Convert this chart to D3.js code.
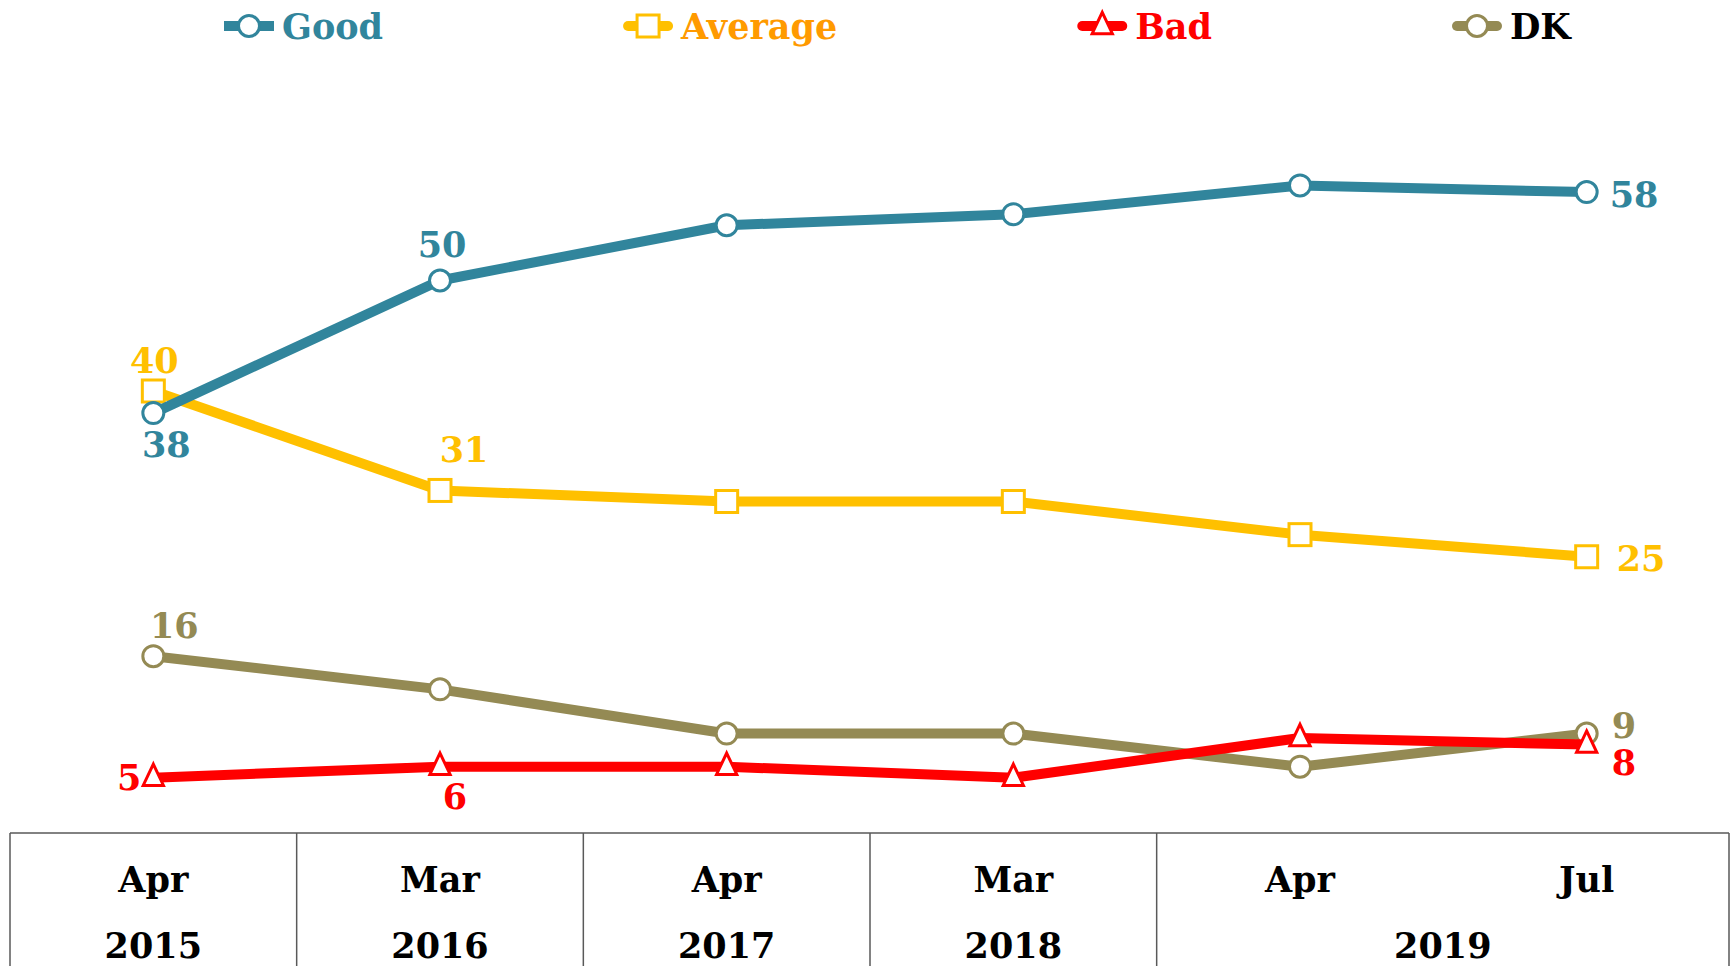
<!DOCTYPE html>
<html>
<head>
<meta charset="utf-8">
<script src="https://cdn.jsdelivr.net/npm/d3@7"></script>
<style>
  body { margin: 0; background: #fff; }
  svg { display: block; font-family: "DejaVu Serif", serif; font-weight: bold; }
</style>
</head>
<body>
<svg id="chart" width="1731" height="966"></svg>
<script>
// data
const categories = ["Apr 2015", "Mar 2016", "Apr 2017", "Mar 2018", "Apr 2019", "Jul 2019"];
const months = ["Apr", "Mar", "Apr", "Mar", "Apr", "Jul"];
const years = ["2015", "2016", "2017", "2018", "2019", "2019"];
const seriesNames = ["Good", "Average", "Bad", "DK"];
const good = [38, 50, 55, 56, 58.6, 58];
const average = [40, 31, 30, 30, 27, 25];
const bad = [5, 6, 6, 5, 8.6, 8];
const dk = [16, 13, 9, 9, 6, 9];

// which points get a value label: [index, dx, dy, anchor]
const labelSpots = {
  Good: [[0, 13, 44, "middle"], [1, 2, -24, "middle"], [5, 23, 15, "start"]],
  Average: [[0, 1, -18, "middle"], [1, 24, -28, "middle"], [5, 30, 14, "start"]],
  Bad: [[0, -12, 12, "end"], [1, 15, 42, "middle"], [5, 25, 30, "start"]],
  DK: [[0, 21, -18, "middle"], [5, 25, 4, "start"]]
};

// triangle drawn round its centroid, like the spreadsheet marker
const tri = {
  draw(ctx, size) {
    const h = Math.sqrt(size);
    ctx.moveTo(0, -h * 0.62);
    ctx.lineTo(h * 0.46, h * 0.35);
    ctx.lineTo(-h * 0.46, h * 0.35);
    ctx.closePath();
  }
};

const styles = {
  Good: { color: "#31859c", text: "#31859c", shape: "circle", cap: "butt" },
  Average: { color: "#ffc000", text: "#ff9a00", shape: "square", cap: "round" },
  Bad: { color: "#ff0000", text: "#ff0000", shape: "triangle", cap: "round" },
  DK: { color: "#948a54", text: "#000000", shape: "circle", cap: "round" }
};
const valuesByName = { Good: good, Average: average, Bad: bad, DK: dk };

const svg = d3.select("#chart");
const tableTop = 833;

const x = d3.scaleBand().domain(categories).range([10, 1730]);
const cx = d => x(d) + x.bandwidth() / 2;
const y = d3.scaleLinear().domain([0, 60]).range([tableTop, 170]);

function marker(sel, shape, color) {
  if (shape === "circle") {
    sel.append("circle").attr("r", 10.5)
      .attr("fill", "#fff").attr("stroke", color).attr("stroke-width", 3);
  } else if (shape === "square") {
    sel.append("rect").attr("x", -11).attr("y", -11).attr("width", 22).attr("height", 22)
      .attr("fill", "#fff").attr("stroke", color).attr("stroke-width", 3);
  } else {
    sel.append("path").attr("d", d3.symbol(tri, 22 * 22)())
      .attr("fill", "#fff").attr("stroke", color).attr("stroke-width", 3);
  }
}

// lines, DK first so Good ends up on top
const order = ["DK", "Bad", "Average", "Good"];
const line = d3.line().x(d => cx(d.cat)).y(d => y(d.v));

order.forEach(name => {
  const st = styles[name];
  const pts = valuesByName[name].map((v, i) => ({ cat: categories[i], v }));
  const g = svg.append("g");
  g.append("path").datum(pts)
    .attr("d", line)
    .attr("fill", "none")
    .attr("stroke", st.color)
    .attr("stroke-width", 10)
    .attr("stroke-linejoin", "round");
  g.selectAll("g.pt").data(pts).join("g")
    .attr("class", "pt")
    .attr("transform", d => `translate(${cx(d.cat)},${y(d.v)})`)
    .each(function() { marker(d3.select(this), st.shape, st.color); });
});

// value labels
seriesNames.forEach(name => {
  const vals = valuesByName[name];
  svg.append("g").selectAll("text").data(labelSpots[name]).join("text")
    .attr("x", d => cx(categories[d[0]]) + d[1])
    .attr("y", d => y(vals[d[0]]) + d[2])
    .attr("text-anchor", d => d[3])
    .attr("fill", styles[name].color)
    .attr("font-size", 35)
    .text(d => Math.round(vals[d[0]]));
});

// legend
const legend = svg.append("g");
let lx = 224;
seriesNames.forEach(name => {
  const st = styles[name];
  const g = legend.append("g").attr("transform", `translate(${lx},26)`);
  g.append("line").attr("x1", st.cap === "round" ? 5 : 0).attr("x2", st.cap === "round" ? 45 : 50)
    .attr("stroke", st.color).attr("stroke-width", 10).attr("stroke-linecap", st.cap);
  const m = g.append("g").attr("transform", "translate(25,0)");
  marker(m, st.shape, st.color);
  const t = g.append("text").attr("x", 58).attr("y", 13)
    .attr("font-size", 35).attr("fill", st.text).text(name);
  lx += 58 + t.node().getComputedTextLength() + 240;
});

// table of dates under the plot
const table = svg.append("g");
const rowH = 140;
table.append("line").attr("x1", 10).attr("x2", 1729).attr("y1", tableTop).attr("y2", tableTop)
  .attr("stroke", "#595959").attr("stroke-width", 1.5);

// consecutive equal years share one cell
const spans = [];
years.forEach((yr, i) => {
  const last = spans[spans.length - 1];
  if (last && last.year === yr) last.end = i;
  else spans.push({ year: yr, start: i, end: i });
});

spans.forEach((s, k) => {
  const x0 = x(categories[s.start]);
  const x1 = x(categories[s.end]) + x.bandwidth();
  table.append("line").attr("x1", x0).attr("x2", x0).attr("y1", tableTop).attr("y2", tableTop + rowH)
    .attr("stroke", "#595959").attr("stroke-width", 1.5);
  if (k === spans.length - 1) {
    table.append("line").attr("x1", 1729).attr("x2", 1729).attr("y1", tableTop).attr("y2", tableTop + rowH)
      .attr("stroke", "#595959").attr("stroke-width", 1.5);
  }
  table.append("text")
    .attr("x", (x0 + Math.min(x1, 1729)) / 2)
    .attr("y", 958)
    .attr("text-anchor", "middle")
    .attr("font-size", 35)
    .attr("fill", "#000")
    .text(s.year);
});

table.selectAll("text.month").data(categories).join("text")
  .attr("class", "month")
  .attr("x", d => cx(d))
  .attr("y", 892)
  .attr("text-anchor", "middle")
  .attr("font-size", 35)
  .attr("fill", "#000")
  .text((d, i) => months[i]);
</script>
</body>
</html>
